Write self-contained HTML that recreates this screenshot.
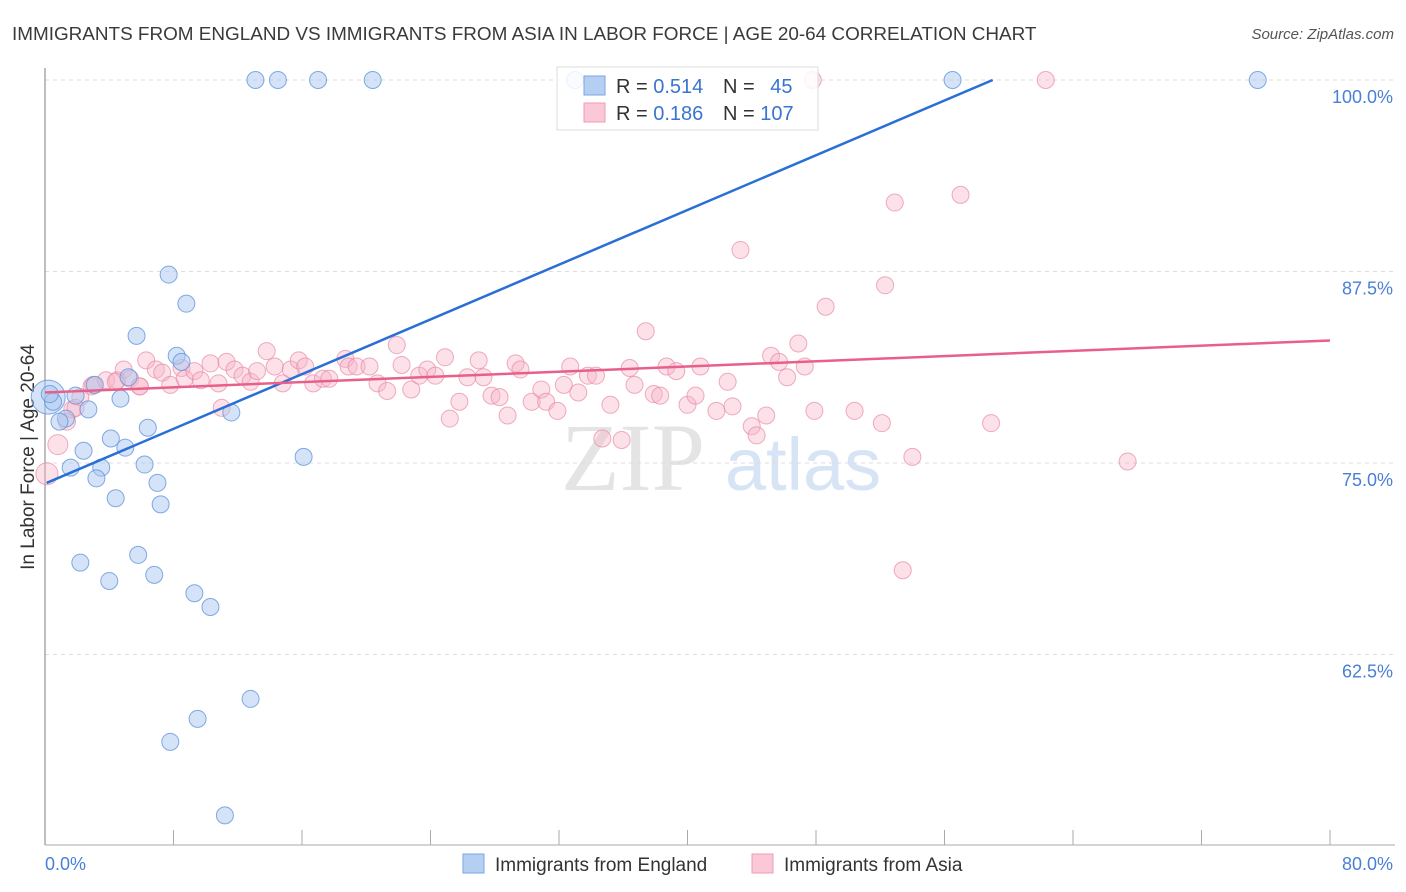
<!DOCTYPE html>
<html><head><meta charset="utf-8"><style>
body{margin:0;background:#fff;font-family:"Liberation Sans",sans-serif}
svg{display:block}
</style></head><body>
<svg id="chart" width="1406" height="892" viewBox="0 0 1406 892" xmlns="http://www.w3.org/2000/svg">
<text x="12" y="40" font-size="18.9" fill="#3a3a3a">IMMIGRANTS FROM ENGLAND VS IMMIGRANTS FROM ASIA IN LABOR FORCE | AGE 20-64 CORRELATION CHART</text>
<text x="1394" y="39" font-size="15" fill="#555" font-style="italic" text-anchor="end">Source: ZipAtlas.com</text>
<g>
<text x="633" y="490" font-size="96" font-family="Liberation Serif,serif" fill="#e4e4e4" text-anchor="middle">ZIP</text>
<text x="803" y="490" font-size="74" fill="#d6e4f5" text-anchor="middle">atlas</text>
</g>
<g id="grid"></g>
<line x1="45" y1="68" x2="45" y2="845" stroke="#aaa" stroke-width="1.5"/>
<line x1="45" y1="845" x2="1395" y2="845" stroke="#aaa" stroke-width="1"/>
<g id="xticks"></g>
<text x="34" y="457" font-size="19" fill="#333" text-anchor="middle" transform="rotate(-90 34 457)">In Labor Force | Age 20-64</text>
<text x="45" y="870" font-size="18" fill="#4a7fd6">0.0%</text>
<text x="1393" y="870" font-size="18" fill="#4a7fd6" text-anchor="end">80.0%</text>
<g id="pink"></g>
<g id="blue"></g>
<g id="lines"></g>
<g>
<rect x="557" y="67" width="261" height="63" fill="#fff" fill-opacity="0.85" stroke="#ddd"/>
<rect x="584" y="76" width="21" height="19" fill="#b5cff3" stroke="#7aa6e6"/>
<rect x="584" y="103" width="21" height="19" fill="#fac8d6" stroke="#f09ab4"/>
<text x="616" y="93" font-size="20" fill="#333">R = <tspan fill="#3a74d0">0.514</tspan></text>
<text x="723" y="93" font-size="20" fill="#333">N = <tspan fill="#3a74d0" dx="10">45</tspan></text>
<text x="616" y="120" font-size="20" fill="#333">R = <tspan fill="#3a74d0">0.186</tspan></text>
<text x="723" y="120" font-size="20" fill="#333">N = <tspan fill="#3a74d0">107</tspan></text>
</g>
<g>
<g>
<rect x="463" y="854" width="21" height="19" fill="#b5cff3" stroke="#7aa6e6"/>
<text x="495" y="871" font-size="19" fill="#333">Immigrants from England</text></g>
<g>
<rect x="752" y="854" width="21" height="19" fill="#fac8d6" stroke="#f09ab4"/>
<text x="784" y="871" font-size="19" fill="#333">Immigrants from Asia</text></g>
</g>
</svg>
<script>
const yTicks=[100,87.5,75,62.5];
const yTickLabels=["100.0%","87.5%","75.0%","62.5%"];
const xTicks=[0,8,16,24,32,40,48,56,64,72,80];
const englandX=[13.1,14.5,17.0,20.4,33.0,56.5,75.5,7.7,8.8,5.7,8.2,8.5,5.2,3.1,4.7,1.9,0.2,2.7,11.6,1.3,0.9,6.4,4.1,2.4,5.0,16.1,6.2,1.6,3.5,3.2,7.0,4.4,7.2,2.2,5.8,4.0,6.8,9.3,10.3,12.8,9.5,7.8,11.2,0.5,0.3];
const englandY=[100,100,100,100,100,100,100,87.3,85.4,83.3,82.0,81.6,80.6,80.1,79.2,79.4,79.3,78.5,78.3,77.9,77.7,77.3,76.6,75.8,76.0,75.4,74.9,74.7,74.7,74.0,73.7,72.7,72.3,68.5,69.0,67.3,67.7,66.5,65.6,59.6,58.3,56.8,52.0,79.0,79.5];
const asiaX=[0.12,0.8,1.37,1.7,2.2,2.9,3.8,4.5,4.9,5.3,5.9,6.3,6.9,7.3,7.8,8.5,8.7,9.3,9.7,10.3,10.8,11.3,11.8,12.3,12.8,13.2,13.8,14.3,14.8,15.3,15.8,16.2,16.7,17.3,17.7,18.7,18.9,19.4,20.2,20.7,21.3,21.9,22.2,22.8,23.3,23.8,24.3,24.9,25.2,25.8,26.3,27.0,27.3,27.8,28.3,28.8,29.3,29.6,30.3,30.9,31.2,31.9,32.3,32.7,33.2,33.8,34.3,34.7,35.2,35.9,36.4,36.7,37.4,37.9,38.3,38.7,39.3,40.0,40.5,40.8,41.8,42.5,42.8,43.3,44.0,44.3,44.9,45.2,45.7,46.2,46.9,47.3,47.8,48.6,47.9,50.4,52.1,52.3,52.9,53.4,54.0,57.0,58.9,62.3,67.4,11.0,5.9,4.4,3.0,1.9];
const asiaY=[74.3,76.2,77.7,78.5,79.3,80.0,80.4,80.4,81.1,80.5,80.0,81.7,81.1,80.9,80.1,81.2,80.5,81.0,80.4,81.5,80.2,81.6,81.1,80.7,80.3,81.0,82.3,81.3,80.2,81.1,81.7,81.3,80.2,80.5,80.5,81.8,81.3,81.3,81.3,80.2,79.7,82.7,81.4,79.8,80.7,81.1,80.7,81.9,77.9,79.0,80.6,81.7,80.6,79.4,79.3,78.1,81.5,81.1,79.0,79.8,79.0,78.4,80.1,81.3,79.6,80.7,80.7,76.6,78.8,76.5,81.2,80.1,83.6,79.5,79.4,81.3,81.0,78.8,79.4,81.3,78.4,80.3,78.7,88.9,77.4,76.8,78.1,82.0,81.6,80.6,82.8,81.3,100,85.2,78.4,78.4,77.6,86.6,92.0,68.0,75.4,92.5,77.6,100,75.1,78.6,80.0,80.3,80.1,78.6];
const englandTrendX=[0.1,59.0];
const englandTrendY=[73.7,100];
const asiaTrendX=[0,80];
const asiaTrendY=[79.6,83.0];

const NS="http://www.w3.org/2000/svg";
const xs=v=>45+v*16.0625;
const ys=v=>80+(100-v)*15.32;
function mk(t,a,p){const e=document.createElementNS(NS,t);for(const k in a)e.setAttribute(k,a[k]);document.getElementById(p).appendChild(e);return e;}
yTicks.forEach((t,i)=>{
 const l=mk('line',{x1:45,x2:1395,y1:ys(t),y2:ys(t),stroke:'#ddd','stroke-dasharray':'4 4'},'grid');
 
 
 const tx=mk('text',{x:1393,y:ys(t)+23,'font-size':18,fill:'#4a7fd6','text-anchor':'end'},'grid');
 tx.textContent=yTickLabels[i];
 
 
});
xTicks.forEach(t=>{
 const l=mk('line',{x1:xs(t),x2:xs(t),y1:830,y2:845,stroke:'#aaa'},'xticks');
 
 
});
asiaX.forEach((x,i)=>{
 const r=i===0?11:(i===1?10:8.5);
 const c=mk('circle',{cx:xs(x),cy:ys(asiaY[i]),r:r,fill:'#f7b3c7','fill-opacity':0.4,stroke:'#e889a8','stroke-opacity':0.7},'pink');
 
 
});
englandX.forEach((x,i)=>{
 const r=i===16?17:8.5;
 const c=mk('circle',{cx:xs(x),cy:ys(englandY[i]),r:r,fill:'#a9c7f0','fill-opacity':0.5,stroke:'#5b90da','stroke-opacity':0.75},'blue');
 
 
});
const bl=mk('line',{x1:xs(englandTrendX[0]),y1:ys(englandTrendY[0]),x2:xs(englandTrendX[1]),y2:ys(englandTrendY[1]),stroke:'#2a6fd6','stroke-width':2.5},'lines');


const pl=mk('line',{x1:xs(asiaTrendX[0]),y1:ys(asiaTrendY[0]),x2:xs(asiaTrendX[1]),y2:ys(asiaTrendY[1]),stroke:'#e8608a','stroke-width':2.5},'lines');


</script>
</body></html>
